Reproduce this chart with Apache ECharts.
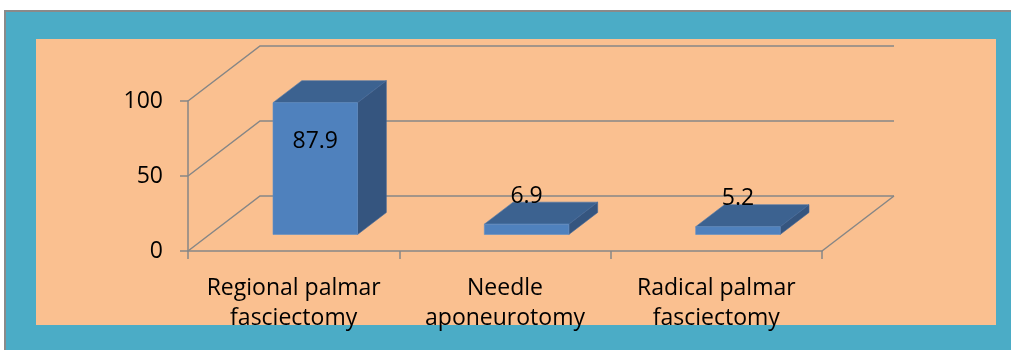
<!DOCTYPE html>
<html>
<head>
<meta charset="utf-8">
<script src="https://cdn.jsdelivr.net/npm/echarts@6/dist/echarts.min.js"></script>
<style>
  html, body { margin: 0; padding: 0; background: #ffffff; }
  #wrap { position: relative; width: 1011px; height: 350px; overflow: hidden; }
  #frame { position: absolute; left: 4px; top: 10px; width: 1020px; height: 360px;
           background: #4BACC6; border-left: 2px solid #8a8a8a; border-top: 2px solid #8a8a8a; box-sizing: border-box; }
  #plate { position: absolute; left: 36px; top: 39px; width: 960px; height: 286px; background: #FAC090; }
  #chart { position: absolute; left: 0; top: 0; width: 1011px; height: 350px; }
</style>
</head>
<body>
<div id="wrap">
  <div id="frame"></div>
  <div id="plate"></div>
  <div id="chart"></div>
</div>
<script>
// Treatment categories and their shares (%)
const categories = ['Regional palmar\nfasciectomy', 'Needle\naponeurotomy', 'Radical palmar\nfasciectomy'];
const values = [87.9, 6.9, 5.2];
const yTicks = [0, 50, 100];

// Oblique projection of the depth axis (pixels from front plane to back wall)
const DX = 72, DY = -55;
const GRID_COLOR = '#868686';
const FONT = '"Open Sans"';
const FONT_SIZE = 23;

const chart = echarts.init(document.getElementById('chart'), null, { renderer: 'canvas' });

// Back wall gridlines, left wall diagonals and the right floor edge
function renderWalls(params, api) {
  const band = api.size([1, 0])[0];
  const left = api.coord([0, 0])[0] - band / 2;
  const right = api.coord([categories.length - 1, 0])[0] + band / 2;
  const children = [];
  const style = { stroke: GRID_COLOR, lineWidth: 1.5, fill: null };
  yTicks.forEach(function (t) {
    const y = api.coord([0, t])[1];
    children.push({ type: 'polyline', shape: { points: [[left, y], [left + DX, y + DY], [right + DX, y + DY]] }, style: style });
  });
  const y0 = api.coord([0, 0])[1];
  children.push({ type: 'line', shape: { x1: right, y1: y0, x2: right + DX, y2: y0 + DY }, style: style });
  return { type: 'group', children: children };
}

// 3D-looking box for each category, plus its value label
function renderBar(params, api) {
  const i = api.value(0), v = api.value(1);
  const band = api.size([1, 0])[0];
  const base = api.coord([i, 0]);
  const top = api.coord([i, v]);
  const w = band * 0.4;
  const d0 = 0.3, d1 = 0.7;
  const fx0 = base[0] - w / 2 + DX * d0, fx1 = fx0 + w;
  const fyB = base[1] + DY * d0, fyT = top[1] + DY * d0;
  const ddx = DX * (d1 - d0), ddy = DY * (d1 - d0);
  const h = fyB - fyT;
  const labelY = h > 40 ? fyT + 39 : fyT - 28;
  return {
    type: 'group',
    children: [
      { type: 'polygon', shape: { points: [[fx0, fyT], [fx1, fyT], [fx1 + ddx, fyT + ddy], [fx0 + ddx, fyT + ddy]] },
        style: { fill: '#3C6290', stroke: '#4A76AA', lineWidth: 0.6 } },
      { type: 'polygon', shape: { points: [[fx1, fyT], [fx1 + ddx, fyT + ddy], [fx1 + ddx, fyB + ddy], [fx1, fyB]] },
        style: { fill: '#35557F', stroke: '#40679A', lineWidth: 0.6 } },
      { type: 'rect', shape: { x: fx0, y: fyT, width: w, height: h },
        style: { fill: '#4F81BD', stroke: '#5F8FC8', lineWidth: 0.6 } },
      { type: 'text', x: (fx0 + fx1) / 2, y: labelY,
        style: { text: String(v), fill: '#000', font: FONT_SIZE + 'px ' + FONT, align: 'center', verticalAlign: 'middle' } }
    ]
  };
}

chart.setOption({
  animation: false,
  backgroundColor: 'transparent',
  grid: { left: 188, right: 189, top: 101, bottom: 99, containLabel: false },
  xAxis: {
    type: 'category',
    data: categories,
    boundaryGap: true,
    axisLine: { show: true, lineStyle: { color: GRID_COLOR, width: 1.5 } },
    axisTick: { show: true, length: 8, interval: 0, alignWithLabel: false, lineStyle: { color: GRID_COLOR, width: 1.5 } },
    axisLabel: { interval: 0, margin: 22, color: '#000', fontFamily: 'Open Sans', fontSize: FONT_SIZE, lineHeight: 30 },
    splitLine: { show: false }
  },
  yAxis: {
    type: 'value',
    min: 0, max: 100, interval: 50,
    axisLine: { show: true, lineStyle: { color: GRID_COLOR, width: 1.5 } },
    axisTick: { show: true, length: 8, lineStyle: { color: GRID_COLOR, width: 1.5 } },
    axisLabel: { margin: 25, color: '#000', fontFamily: 'Open Sans', fontSize: FONT_SIZE },
    splitLine: { show: false }
  },
  series: [
    { type: 'custom', renderItem: renderWalls, data: [[0, 0]], z: 1, silent: true },
    { type: 'custom', renderItem: renderBar, data: values.map(function (v, i) { return [i, v]; }), z: 3 }
  ]
});
</script>
</body>
</html>
